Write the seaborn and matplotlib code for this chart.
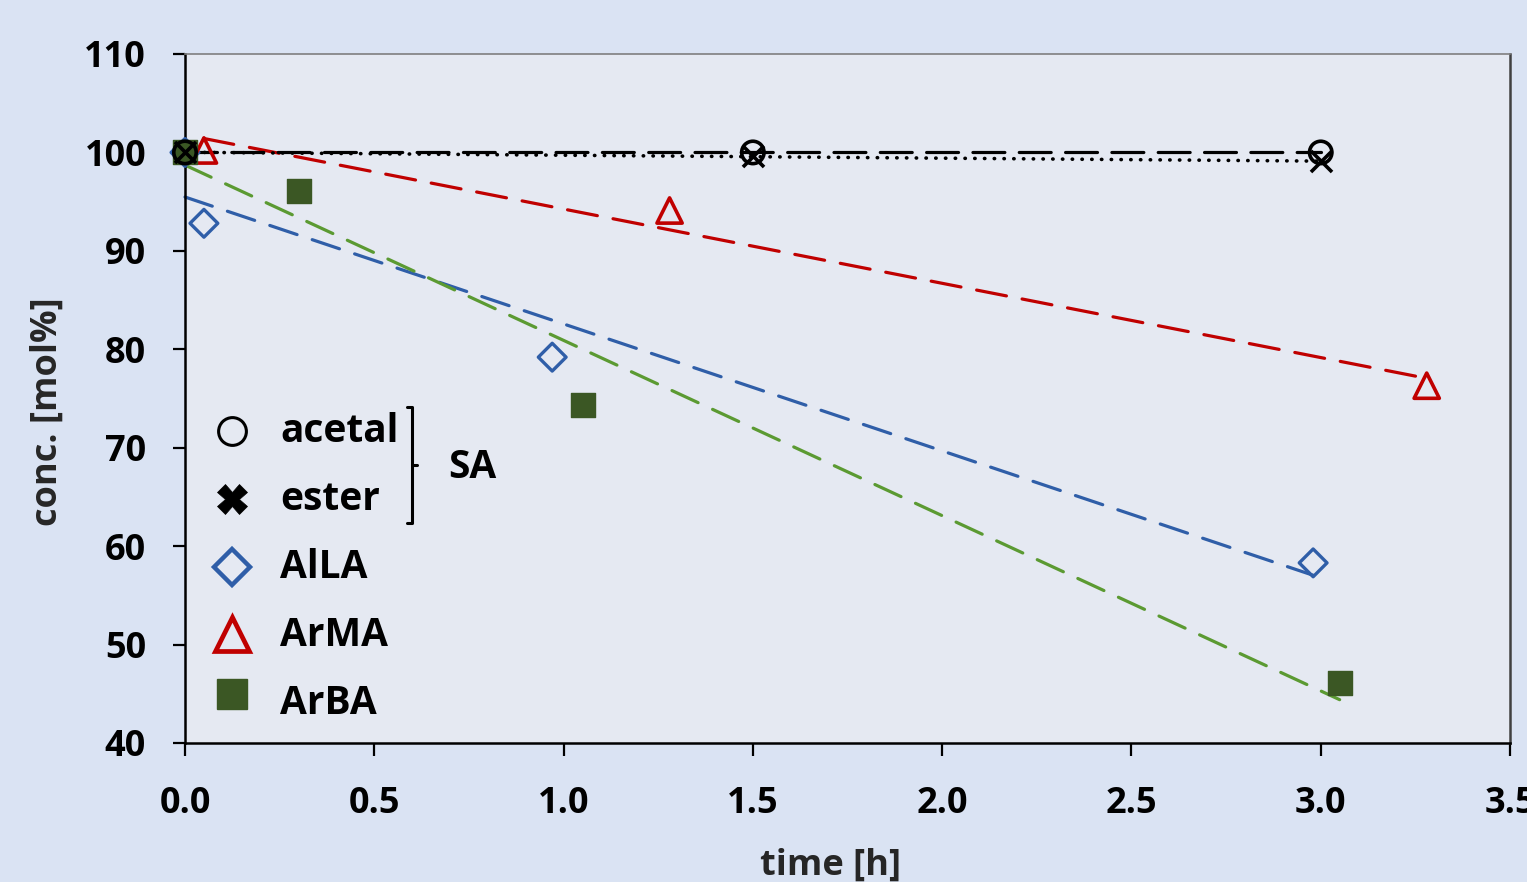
import numpy as np
import pandas as pd
import matplotlib
matplotlib.use("Agg")
import matplotlib.pyplot as plt
import seaborn as sns

# ---- data ----
acetal_t = [0.0, 1.5, 3.0]
acetal_c = [100.0, 100.0, 100.0]
ester_t = [0.0, 1.5, 3.0]
ester_c = [100.0, 99.6, 99.1]
alla_t = [0.0, 0.05, 0.97, 2.98]
alla_c = [100.0, 92.8, 79.2, 58.3]
arma_t = [0.05, 1.28, 3.28]
arma_c = [100.2, 94.1, 76.3]
arba_t = [0.0, 0.30, 1.05, 3.05]
arba_c = [100.0, 96.1, 74.3, 46.1]

xticks = [0.0, 0.5, 1.0, 1.5, 2.0, 2.5, 3.0, 3.5]
yticks = [40, 50, 60, 70, 80, 90, 100, 110]
legend_labels = ["acetal", "ester", "AlLA", "ArMA", "ArBA"]

FIG_BG = "#dae3f3"
AX_BG = "#e5e9f2"
BLUE = "#2f5ea8"
RED = "#c00000"
GREEN_LINE = "#5b9a32"
GREEN_FILL = "#3b5724"

sns.set_theme(style="white")
plt.rcParams["font.family"] = ["Open Sans", "DejaVu Sans"]
plt.rcParams["font.weight"] = "bold"

fig = plt.figure(figsize=(15.27, 8.82), dpi=100, facecolor=FIG_BG)
ax = fig.add_axes([185 / 1527, 1 - 743 / 882, 1325 / 1527, 689 / 882])
ax.set_facecolor(AX_BG)


def trend(ax, t, c, color, dashes, lw, z):
    k, b = np.polyfit(t, c, 1)
    xs = np.array([min(t), max(t)])
    df = pd.DataFrame({"t": xs, "c": k * xs + b})
    sns.lineplot(data=df, x="t", y="c", ax=ax, color=color, lw=lw, zorder=z,
                 legend=False)
    ax.lines[-1].set_dashes(dashes)
    ax.lines[-1].set_dash_capstyle("round")
    ax.lines[-1].set_clip_on(False)


# trend lines
trend(ax, alla_t, alla_c, BLUE, (9, 5), 2.3, 2)
trend(ax, arma_t, arma_c, RED, (9.5, 5), 2.3, 2)
trend(ax, arba_t, arba_c, GREEN_LINE, (9, 5), 2.3, 2)
trend(ax, acetal_t, acetal_c, "black", (10, 4.5), 2.3, 3)
trend(ax, ester_t, ester_c, "black", (0.1, 2.6), 2.6, 3)

# markers
sns.scatterplot(x=alla_t, y=alla_c, ax=ax, marker="D", s=200, facecolor="none",
                edgecolor=BLUE, linewidth=2.4, zorder=4, clip_on=False)
sns.scatterplot(x=arma_t, y=arma_c, ax=ax, marker="^", s=330, facecolor="none",
                edgecolor=RED, linewidth=2.6, zorder=4, clip_on=False)
sns.scatterplot(x=arba_t, y=arba_c, ax=ax, marker="s", s=290, color=GREEN_FILL,
                edgecolor=GREEN_FILL, linewidth=1, zorder=4, clip_on=False)
sns.scatterplot(x=acetal_t, y=acetal_c, ax=ax, marker="o", s=260, facecolor="none",
                edgecolor="black", linewidth=2.6, zorder=5, clip_on=False)
sns.scatterplot(x=ester_t, y=ester_c, ax=ax, marker="x", s=230, color="black",
                linewidth=2.6, zorder=5, clip_on=False)

ax.set_xlim(0, 3.5)
ax.set_ylim(40, 110)
ax.set_xticks(xticks)
ax.set_xticklabels([f"{v:.1f}" for v in xticks])
ax.set_yticks(yticks)
ax.set_yticklabels([str(v) for v in yticks])
ax.tick_params(axis="both", which="major", direction="out", length=9, width=1.6,
               color="black", labelsize=26, labelcolor="black", bottom=True, left=True)
ax.tick_params(axis="y", pad=19)
ax.tick_params(axis="x", pad=22)
for lab in ax.get_xticklabels() + ax.get_yticklabels():
    lab.set_fontweight("bold")

for s in ["left", "bottom"]:
    ax.spines[s].set_color("black")
    ax.spines[s].set_linewidth(1.8)
ax.spines["top"].set_color("#7f7f7f")
ax.spines["top"].set_linewidth(1.2)
ax.spines["right"].set_color("#404040")
ax.spines["right"].set_linewidth(1.8)

ax.set_xlabel("time [h]", fontsize=26, fontweight="bold")
ax.xaxis.set_label_coords((831 - 185) / 1325, (743 - 848) / 689)
ax.set_ylabel("conc. [mol%]", fontsize=26, fontweight="bold")
ax.yaxis.set_label_coords((66 - 185) / 1325, (743 - 412) / 689)

# custom legend (axes-fraction coordinates)
mx = (232 - 185) / 1325
tx = (280 - 185) / 1325
rows = [(743 - y) / 689 for y in (431, 499, 567, 634, 694)]
trows = [(743 - y) / 689 for y in (432, 500, 568, 636, 704)]
lkw = dict(transform=ax.transAxes, clip_on=False, zorder=6)
ax.plot([mx], [rows[0]], marker="o", ms=20, mfc="none", mec="black", mew=2.2, **lkw)
ax.plot([mx], [rows[1]], marker="X", ms=21, mfc="black", mec="black", mew=0.5, **lkw)
ax.plot([mx], [rows[2]], marker="D", ms=18, mfc="none", mec=BLUE, mew=3.2, **lkw)
ax.plot([mx], [rows[3]], marker="^", ms=24, mfc="none", mec=RED, mew=3.4, **lkw)
ax.plot([mx], [rows[4]], marker="s", ms=22, mfc=GREEN_FILL, mec=GREEN_FILL, mew=1, **lkw)
for lab, ty in zip(legend_labels, trows):
    ax.text(tx, ty, lab, transform=ax.transAxes, fontsize=28, fontweight="bold",
            ha="left", va="center", color="black")

# bracket around acetal/ester -> SA
bx = (412 - 185) / 1325
btop = (743 - 407) / 689
bbot = (743 - 523) / 689
bmid = (743 - 465) / 689
bl = 5 / 1325
ax.plot([bx - bl, bx, bx, bx - bl], [btop, btop, bbot, bbot], color="black",
        lw=2.2, transform=ax.transAxes, clip_on=False, solid_capstyle="round")
ax.plot([bx, bx + bl], [bmid, bmid], color="black", lw=2.2,
        transform=ax.transAxes, clip_on=False, solid_capstyle="round")
ax.text((448 - 185) / 1325, (743 - 467) / 689, "SA", transform=ax.transAxes, fontsize=28,
        fontweight="bold", ha="left", va="center", color="black")

fig.savefig("out.png", dpi=100, facecolor=FIG_BG)
